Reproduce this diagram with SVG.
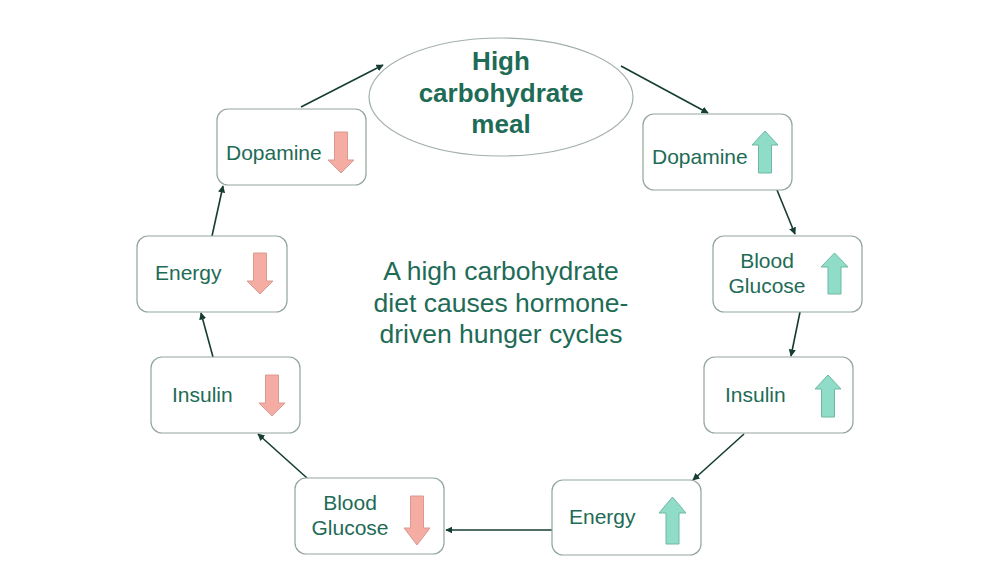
<svg xmlns="http://www.w3.org/2000/svg" width="1000" height="575" viewBox="0 0 1000 575">
<defs>
<style>
.box{fill:#fff;stroke:#93a59c;stroke-width:1.2}
.lbl{font-family:"Liberation Sans",Arial,sans-serif;font-size:21px;fill:#1e6b56}
.title{font-family:"Liberation Sans",Arial,sans-serif;font-size:26px;font-weight:bold;fill:#1e6b56;text-anchor:middle}
.center{font-family:"Liberation Sans",Arial,sans-serif;font-size:26.5px;fill:#1e6b56;text-anchor:middle}
.up{fill:#8fdcc8;stroke:#6fb8a3;stroke-width:1}
.down{fill:#f5aca2;stroke:#d99a90;stroke-width:1}
.conn{stroke:#163d33;stroke-width:1.6;fill:none;marker-end:url(#ah)}
</style>
<marker id="ah" viewBox="0 0 10 10" refX="9" refY="5" markerWidth="4.5" markerHeight="4.5" orient="auto" markerUnits="strokeWidth">
<path d="M0,0 L10,5 L0,10 Z" fill="#163d33"/>
</marker>
</defs>
<rect width="1000" height="575" fill="#fff"/>

<g id="connectors">
<line class="conn" x1="301" y1="107" x2="383" y2="65"/>
<line class="conn" x1="621" y1="66" x2="708" y2="113"/>
<line class="conn" x1="777" y1="190" x2="795" y2="234"/>
<line class="conn" x1="800" y1="312" x2="791" y2="356"/>
<line class="conn" x1="744" y1="434" x2="693" y2="480"/>
<line class="conn" x1="552" y1="530" x2="446" y2="530"/>
<line class="conn" x1="307" y1="478" x2="258" y2="434"/>
<line class="conn" x1="213" y1="357" x2="201" y2="313"/>
<line class="conn" x1="212" y1="236" x2="223" y2="186"/>
</g>

<g id="meal">
<ellipse cx="501" cy="97" rx="132" ry="59" fill="#fff" stroke="#a3b0aa" stroke-width="1.2"/>
<text class="title" x="501" y="70">High</text>
<text class="title" x="501" y="102">carbohydrate</text>
<text class="title" x="501" y="133">meal</text>
</g>

<g id="center-text">
<text class="center" x="501" y="280">A high carbohydrate</text>
<text class="center" x="501" y="312">diet causes hormone-</text>
<text class="center" x="501" y="343">driven hunger cycles</text>
</g>

<g id="dopamine-up">
<rect class="box" x="643" y="114" width="149" height="76" rx="11"/>
<text class="lbl" x="652" y="164">Dopamine</text>
<path class="up" transform="translate(752,131)" d="M13,0 L26,14 L19.5,14 L19.5,42 L6.5,42 L6.5,14 L0,14 Z"/>
</g>

<g id="glucose-up">
<rect class="box" x="713" y="236" width="149" height="76" rx="11"/>
<text class="lbl" x="767" y="268" text-anchor="middle">Blood</text>
<text class="lbl" x="767" y="293" text-anchor="middle">Glucose</text>
<path class="up" transform="translate(821,253)" d="M13.5,0 L27,14 L20,14 L20,41 L7,41 L7,14 L0,14 Z"/>
</g>

<g id="insulin-up">
<rect class="box" x="704" y="357" width="149" height="76" rx="11"/>
<text class="lbl" x="725" y="402">Insulin</text>
<path class="up" transform="translate(815,375)" d="M13,0 L26,14 L19.5,14 L19.5,42 L6.5,42 L6.5,14 L0,14 Z"/>
</g>

<g id="energy-up">
<rect class="box" x="552" y="480" width="149" height="75" rx="11"/>
<text class="lbl" x="569" y="524">Energy</text>
<path class="up" transform="translate(659,497)" d="M13.5,0 L27,16 L20,16 L20,47 L7,47 L7,16 L0,16 Z"/>
</g>

<g id="glucose-down">
<rect class="box" x="295" y="478" width="149" height="76" rx="11"/>
<text class="lbl" x="350" y="510" text-anchor="middle">Blood</text>
<text class="lbl" x="350" y="535" text-anchor="middle">Glucose</text>
<path class="down" transform="translate(404,496)" d="M6.5,0 L19.5,0 L19.5,32 L26,32 L13,49 L0,32 L6.5,32 Z"/>
</g>

<g id="insulin-down">
<rect class="box" x="151" y="357" width="149" height="76" rx="11"/>
<text class="lbl" x="172" y="402">Insulin</text>
<path class="down" transform="translate(259,375)" d="M6.5,0 L19.5,0 L19.5,28 L26,28 L13,41 L0,28 L6.5,28 Z"/>
</g>

<g id="energy-down">
<rect class="box" x="137" y="236" width="150" height="76" rx="11"/>
<text class="lbl" x="155" y="280">Energy</text>
<path class="down" transform="translate(247,253)" d="M6.5,0 L19.5,0 L19.5,28 L26,28 L13,41 L0,28 L6.5,28 Z"/>
</g>

<g id="dopamine-down">
<rect class="box" x="217" y="109" width="149" height="76" rx="11"/>
<text class="lbl" x="226" y="160">Dopamine</text>
<path class="down" transform="translate(328,132)" d="M6.5,0 L19.5,0 L19.5,28 L26,28 L13,41 L0,28 L6.5,28 Z"/>
</g>
</svg>
